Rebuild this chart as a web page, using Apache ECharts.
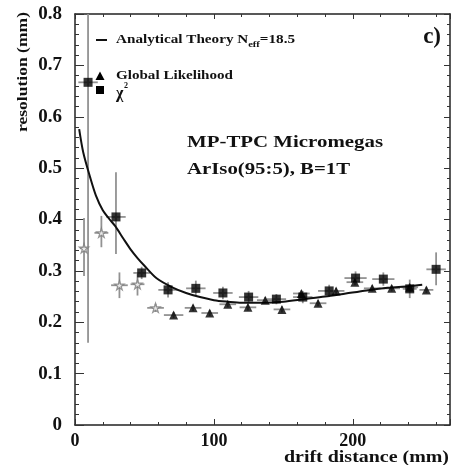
<!DOCTYPE html>
<html><head><meta charset="utf-8">
<script src="https://cdn.jsdelivr.net/npm/echarts@6/dist/echarts.min.js"></script>
<style>html,body{margin:0;padding:0;background:#fff}#c{width:451px;height:465px}</style>
</head><body><div id="c"></div>
<script>
// ---- data ----
const theoryX = [3, 6, 10.8, 15, 20, 25, 29, 35, 40, 45, 50, 59, 70, 80, 90, 100, 110, 120, 135, 150, 165, 180, 195, 210, 225, 240, 250];
const theoryY = [0.576, 0.53, 0.483, 0.447, 0.418, 0.40, 0.387, 0.362, 0.342, 0.325, 0.31, 0.285, 0.268, 0.257, 0.249, 0.243, 0.240, 0.238, 0.238, 0.240, 0.245, 0.250, 0.256, 0.262, 0.267, 0.270, 0.273];

const chi2X    = [9.4, 29.5, 48, 67, 87, 106.5, 125, 145, 164, 183, 202, 222, 241, 260];
const chi2Y    = [0.667, 0.405, 0.296, 0.263, 0.266, 0.257, 0.249, 0.245, 0.249, 0.261, 0.286, 0.284, 0.265, 0.303];
const chi2XErr = [7, 7, 6, 7, 7, 7, 7, 7, 7, 8, 8, 8, 5, 7];
const chi2YLo  = [0.16, 0.333, 0.284, 0.248, 0.251, 0.245, 0.237, 0.235, 0.237, 0.249, 0.273, 0.271, 0.247, 0.272];
const chi2YHi  = [0.85, 0.492, 0.308, 0.278, 0.281, 0.269, 0.261, 0.255, 0.261, 0.273, 0.299, 0.297, 0.283, 0.336];

const likeX    = [71, 85, 97, 110, 124.5, 137, 149, 163, 175, 188, 201.5, 214, 228, 241, 253];
const likeY    = [0.214, 0.228, 0.218, 0.235, 0.229, 0.243, 0.225, 0.256, 0.237, 0.261, 0.278, 0.266, 0.266, 0.268, 0.263];
const likeXErr = [7, 6, 6, 6, 6, 6, 6, 6, 6, 6, 6, 6, 6, 6, 5];
const likeYErr = [0.006, 0.006, 0.006, 0.006, 0.006, 0.006, 0.006, 0.006, 0.006, 0.006, 0.006, 0.006, 0.006, 0.006, 0.006];

const openX    = [6.5, 19, 32, 45, 58];
const openY    = [0.344, 0.374, 0.272, 0.274, 0.228];
const openXErr = [3, 5, 6, 5, 6];
const openYLo  = [0.29, 0.346, 0.247, 0.252, 0.220];
const openYHi  = [0.403, 0.407, 0.297, 0.296, 0.236];

const xTickLabels = ['0', '100', '200'];
const yTickLabels = ['0', '0.1', '0.2', '0.3', '0.4', '0.5', '0.6', '0.7', '0.8'];

// ---- chart ----
const SERIF = '"Liberation Serif","DejaVu Serif",serif';
const chart = echarts.init(document.getElementById('c'), null, {renderer: 'canvas'});

function errRows(xs, ys, xe, ylo, yhi) {
  return xs.map((x, i) => [x, ys[i], x - xe[i], x + xe[i], ylo[i], yhi[i]]);
}
const errData = []
  .concat(errRows(chi2X, chi2Y, chi2XErr, chi2YLo, chi2YHi))
  .concat(errRows(likeX, likeY, likeXErr, likeY.map((v,i)=>v-likeYErr[i]), likeY.map((v,i)=>v+likeYErr[i])))
  .concat(errRows(openX, openY, openXErr, openYLo, openYHi));

const STAR = 'path://M50,0 L61,35 L98,35 L68,57 L79,91 L50,70 L21,91 L32,57 L2,35 L39,35 Z';

const c2 = document.createElement('canvas').getContext('2d');
function tw(t, font) { c2.font = font; return c2.measureText(t).width; }

// text fitted to a target width (horizontal stretch like the reference)
function fitText(t, font, x, y, target, extra) {
  const s = target / tw(t, font);
  return Object.assign({type: 'text', x: x, y: y, scaleX: s,
    style: {text: t, font: font, fill: '#111', textVerticalAlign: 'middle'}}, extra || {});
}

const fLeg = 'bold 13px ' + SERIF;
const fSub = 'bold 9px ' + SERIF;
const legX = 116;
const p1 = 'Analytical Theory N', p2 = 'eff', p3 = '=18.5';
const n1 = tw(p1, fLeg), n2 = tw(p2, fSub), n3 = tw(p3, fLeg);
const legS = 179 / (n1 + n2 + n3);

const fTitle = 'bold 17px ' + SERIF;

chart.setOption({
  animation: false,
  backgroundColor: '#fff',
  grid: {left: 75, right: 1, top: 14, bottom: 40},
  xAxis: [
    {
      type: 'value', min: 0, max: 270, interval: 100, position: 'bottom',
      axisLine: {show: true, onZero: false, lineStyle: {color: '#222', width: 1.5}},
      splitLine: {show: false},
      axisTick: {show: true, inside: true, length: 6, lineStyle: {color: '#333', width: 1}},
      minorTick: {show: true, splitNumber: 5, length: 3, lineStyle: {color: '#333', width: 1}},
      axisLabel: {show: true, margin: 7, color: '#111', fontFamily: SERIF, fontWeight: 'bold', fontSize: 18,
        showMaxLabel: false,
        formatter: v => xTickLabels.indexOf(String(v)) >= 0 ? String(v) : ''}
    },
    {
      type: 'value', min: 0, max: 270, interval: 100, position: 'top',
      axisLine: {show: true, onZero: false, lineStyle: {color: '#222', width: 1.5}},
      splitLine: {show: false},
      axisTick: {show: true, inside: true, length: 5, lineStyle: {color: '#333', width: 1}},
      minorTick: {show: true, splitNumber: 5, length: 3, lineStyle: {color: '#333', width: 1}},
      axisLabel: {show: false}
    }
  ],
  yAxis: [
    {
      type: 'value', min: 0, max: 0.8, interval: 0.1, position: 'left',
      axisLine: {show: true, onZero: false, lineStyle: {color: '#222', width: 1.5}},
      splitLine: {show: false},
      axisTick: {show: true, inside: true, length: 9, lineStyle: {color: '#333', width: 1}},
      minorTick: {show: true, splitNumber: 5, length: 4, lineStyle: {color: '#333', width: 1}},
      axisLabel: {show: true, margin: 13, color: '#111', fontFamily: SERIF, fontWeight: 'bold', fontSize: 19,
        formatter: v => { const s = String(Math.round(v * 10) / 10); return yTickLabels.indexOf(s) >= 0 ? s : ''; }}
    },
    {
      type: 'value', min: 0, max: 0.8, interval: 0.1, position: 'right',
      axisLine: {show: true, onZero: false, lineStyle: {color: '#222', width: 1.5}},
      splitLine: {show: false},
      axisTick: {show: true, inside: true, length: 6, lineStyle: {color: '#333', width: 1}},
      minorTick: {show: true, splitNumber: 5, length: 3, lineStyle: {color: '#333', width: 1}},
      axisLabel: {show: false}
    }
  ],
  series: [
    {
      type: 'custom', name: 'errors', xAxisIndex: 0, yAxisIndex: 0, clip: true,
      data: errData,
      encode: {x: 0, y: 1},
      z: 1,
      renderItem: function (params, api) {
        const y = api.value(1), x = api.value(0);
        const xl = api.coord([api.value(2), y]);
        const xh = api.coord([api.value(3), y]);
        const yl = api.coord([x, api.value(4)]);
        const yh = api.coord([x, Math.min(api.value(5), 0.8)]);
        const st = {stroke: '#929292', lineWidth: 1.8};
        return {type: 'group', children: [
          {type: 'line', shape: {x1: xl[0], y1: xl[1], x2: xh[0], y2: xh[1]}, style: st},
          {type: 'line', shape: {x1: yl[0], y1: yl[1], x2: yh[0], y2: yh[1]}, style: st}
        ]};
      }
    },
    {
      type: 'line', name: 'Analytical Theory', smooth: 0.3, symbol: 'none', z: 3,
      lineStyle: {color: '#111', width: 2},
      data: theoryX.map((x, i) => [x, theoryY[i]])
    },
    {
      type: 'scatter', name: 'Global Likelihood', symbol: 'triangle', symbolSize: 9, z: 4,
      itemStyle: {color: '#000'},
      data: likeX.map((x, i) => [x, likeY[i]])
    },
    {
      type: 'scatter', name: 'chi2', symbol: 'rect', symbolSize: 9, z: 5,
      itemStyle: {color: '#000'},
      data: chi2X.map((x, i) => [x, chi2Y[i]])
    },
    {
      type: 'scatter', name: 'open', symbol: STAR, symbolSize: 9, z: 4,
      itemStyle: {color: '#fff', borderColor: '#7a7a7a', borderWidth: 1.3},
      data: openX.map((x, i) => [x, openY[i]])
    }
  ],
  graphic: [
    // legend
    {type: 'line', shape: {x1: 96, y1: 40, x2: 107, y2: 40}, style: {stroke: '#111', lineWidth: 2}},
    {type: 'text', x: legX, y: 40, scaleX: legS, style: {text: p1, font: fLeg, fill: '#111', textVerticalAlign: 'middle'}},
    {type: 'text', x: legX + legS * n1, y: 45, scaleX: legS, style: {text: p2, font: fSub, fill: '#111', textVerticalAlign: 'middle'}},
    {type: 'text', x: legX + legS * (n1 + n2), y: 40, scaleX: legS, style: {text: p3, font: fLeg, fill: '#111', textVerticalAlign: 'middle'}},
    {type: 'polygon', shape: {points: [[100, 71.5], [104.5, 80], [95.5, 80]]}, style: {fill: '#000'}},
    fitText('Global Likelihood', fLeg, legX, 76, 117),
    {type: 'rect', shape: {x: 96, y: 86, width: 8, height: 8}, style: {fill: '#000'}},
    {type: 'text', x: legX, y: 94, style: {text: 'χ', font: 'bold 16px ' + SERIF, fill: '#111', textVerticalAlign: 'middle'}},
    {type: 'text', x: legX + 8, y: 86, style: {text: '2', font: 'bold 8px ' + SERIF, fill: '#111', textVerticalAlign: 'middle'}},
    // panel label
    {type: 'text', x: 441, y: 37, style: {text: 'c)', font: 'bold 23px ' + SERIF, fill: '#111', textAlign: 'right', textVerticalAlign: 'middle'}},
    // annotation
    fitText('MP-TPC Micromegas', fTitle, 187, 143, 196),
    fitText('ArIso(95:5), B=1T', fTitle, 187, 170, 163),
    // axis titles
    fitText('resolution (mm)', 'bold 15px ' + SERIF, 23, 132, 120, {rotation: Math.PI / 2}),
    fitText('drift distance (mm)', 'bold 16px ' + SERIF, 284, 458, 165)
  ]
});
</script>
</body></html>
